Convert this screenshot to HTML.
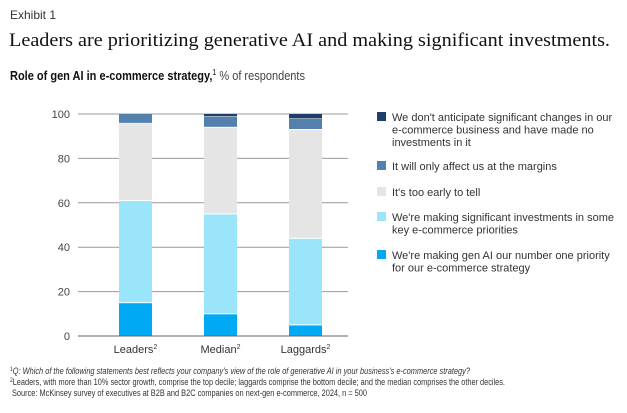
<!DOCTYPE html>
<html><head><meta charset="utf-8"><style>
body{margin:0;background:#fff;width:627px;height:408px;overflow:hidden;font-family:"Liberation Sans",sans-serif;}
svg text{font-family:"Liberation Sans",sans-serif;}
</style></head><body>
<svg width="627" height="408" viewBox="0 0 627 408">
<text x="10" y="19" font-size="12" fill="#333">Exhibit 1</text>
<text x="9" y="46" font-size="19" fill="#111" textLength="601" lengthAdjust="spacingAndGlyphs" style="font-family:'Liberation Serif',serif">Leaders are prioritizing generative AI and making significant investments.</text>
<text x="10" y="80" font-size="12.5" fill="#111" textLength="295" lengthAdjust="spacingAndGlyphs"><tspan font-weight="bold">Role of gen AI in e-commerce strategy,</tspan><tspan font-size="8" dy="-5">1</tspan><tspan dy="5" fill="#444"> % of respondents</tspan></text>
<g id="grid"></g><g id="bars"></g><g id="legend"></g>
<text x="10" y="374" font-size="9" fill="#333" font-style="italic" textLength="460" lengthAdjust="spacingAndGlyphs"><tspan font-size="6" dy="-3" font-style="normal">1</tspan><tspan dy="3">Q: Which of the following statements best reflects your company's view of the role of generative AI in your business's e-commerce strategy?</tspan></text>
<text x="10" y="385" font-size="9" fill="#333" textLength="495" lengthAdjust="spacingAndGlyphs"><tspan font-size="6" dy="-3">2</tspan><tspan dy="3">Leaders, with more than 10% sector growth, comprise the top decile; laggards comprise the bottom decile; and the median comprises the other deciles.</tspan></text>
<text x="12" y="396" font-size="9" fill="#333" textLength="355" lengthAdjust="spacingAndGlyphs">Source: McKinsey survey of executives at B2B and B2C companies on next-gen e-commerce, 2024, n = 500</text>
</svg>
<script>
const categories=["Leaders","Median","Laggards"];
const numberOne=[15,10,5];
const significant=[46,45,39];
const tooEarly=[35,39,49];
const margins=[4,5,5];
const noChange=[0,1,2];
const yTicks=[0,20,40,60,80,100];
const seriesNames=["We don't anticipate significant changes in our|e-commerce business and have made no|investments in it","It will only affect us at the margins","It's too early to tell","We're making significant investments in some|key e-commerce priorities","We're making gen AI our number one priority|for our e-commerce strategy"];
const NS="http://www.w3.org/2000/svg";
const y0=336,y100=114,xL=78,xR=348;
function yS(v){return y0-(y0-y100)*v/100;}
function xS(i){return 119+i*85;}
const bw=33;
const grid=document.getElementById('grid');
yTicks.forEach(t=>{
 const l=document.createElementNS(NS,'line');
 l.setAttribute('x1',xL);l.setAttribute('x2',xR);l.setAttribute('y1',yS(t));l.setAttribute('y2',yS(t));
 l.setAttribute('stroke',t===0?'#666':'#999');l.setAttribute('stroke-width','1');
 
 
 grid.appendChild(l);
 const tx=document.createElementNS(NS,'text');
 tx.setAttribute('x',70);tx.setAttribute('y',yS(t)+4);tx.setAttribute('text-anchor','end');tx.setAttribute('font-size','11');tx.setAttribute('fill','#444');
 tx.textContent=t;
 
 
 grid.appendChild(tx);
});
const series=[numberOne,significant,tooEarly,margins,noChange];
const colors=["#00a9f4","#9be5fb","#e5e5e5","#5480ad","#1f3f6b"];
const bars=document.getElementById('bars');
categories.forEach((c,i)=>{
 let cum=0;
 series.forEach((s,k)=>{
  const v=s[i];
  if(v>0){
   const r=document.createElementNS(NS,'rect');
   const top=yS(cum+v),bot=yS(cum);
   r.setAttribute('x',xS(i));r.setAttribute('width',bw);
   r.setAttribute('y',top+(cum+v<100?0.5:0));r.setAttribute('height',Math.max(0.5,bot-top-(cum+v<100?1:0)));
   r.setAttribute('fill',colors[k]);
   
   
   bars.appendChild(r);
  }
  cum+=v;
 });
 const t=document.createElementNS(NS,'text');
 t.setAttribute('x',xS(i)+bw/2);t.setAttribute('y',353);t.setAttribute('text-anchor','middle');t.setAttribute('font-size','11');t.setAttribute('fill','#333');
 t.innerHTML=c+'<tspan font-size="7" dy="-4">2</tspan>';
 
 
 bars.appendChild(t);
});
const leg=document.getElementById('legend');
const legY=[121,170,196,221,259];
const legCol=[4,3,2,1,0];
seriesNames.forEach((n,k)=>{
 const g=document.createElementNS(NS,'g');
 
 
 const r=document.createElementNS(NS,'rect');
 r.setAttribute('x',377);r.setAttribute('y',legY[k]-9);r.setAttribute('width',9);r.setAttribute('height',9);r.setAttribute('fill',colors[legCol[k]]);
 g.appendChild(r);
 n.split('|').forEach((line,j)=>{
  const t=document.createElementNS(NS,'text');
  t.setAttribute('x',392);t.setAttribute('y',legY[k]+j*12.5);t.setAttribute('font-size','11');t.setAttribute('fill','#333');
  t.textContent=line;
  g.appendChild(t);
 });
 leg.appendChild(g);
});
</script>
</body></html>
